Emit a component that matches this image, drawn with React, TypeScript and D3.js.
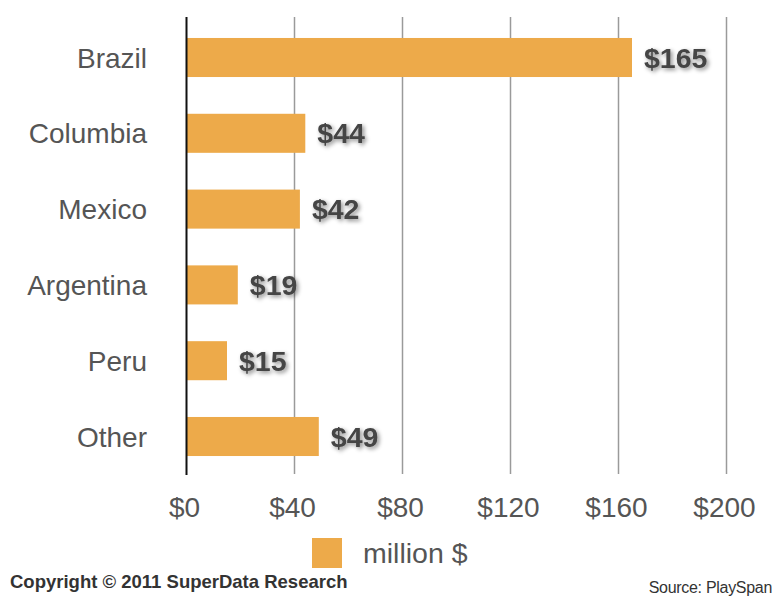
import React from "react";
import * as d3 from "d3";

const categories = ["Brazil", "Columbia", "Mexico", "Argentina", "Peru", "Other"];
const values = [165, 44, 42, 19, 15, 49];
const tickValues = [0, 40, 80, 120, 160, 200];
const legendLabel = "million $";
const copyright = "Copyright © 2011 SuperData Research";
const source = "Source: PlaySpan";

const W = 774;
const H = 599;
const FONT = "'Liberation Sans', Arial, Helvetica, sans-serif";
const BAR = "#EDAA4A";

export default function App() {
  const x = d3.scaleLinear().domain([0, 200]).range([186.5, 726.5]);
  const y = d3
    .scaleBand<string>()
    .domain(categories)
    .range([19.6, 474.4])
    .paddingInner(0.485)
    .paddingOuter(0.2425);

  return (
    <svg
      width={W}
      height={H}
      style={{ position: "absolute", left: 0, top: 0, background: "#fff" }}
    >
      <defs>
        <filter id="shadow" x="-20%" y="-30%" width="140%" height="160%">
          <feDropShadow dx="2" dy="2" stdDeviation="2" floodColor="#000" floodOpacity="0.45" />
        </filter>
      </defs>
      <rect width={W} height={H} fill="#fff" />
      {tickValues.slice(1).map((t) => (
        <line
          key={t}
          x1={x(t)}
          x2={x(t)}
          y1={17}
          y2={474}
          stroke="#9a9a9a"
          strokeWidth={1.5}
        />
      ))}
      {categories.map((c, i) => (
        <rect
          key={c}
          x={x(0)}
          y={y(c)}
          width={x(values[i]) - x(0)}
          height={y.bandwidth()}
          fill={BAR}
        />
      ))}
      <line x1={x(0)} x2={x(0)} y1={17} y2={475} stroke="#111" strokeWidth={2} />
      {categories.map((c) => (
        <text
          key={c}
          x={147}
          y={(y(c) as number) + y.bandwidth() / 2 + 10}
          textAnchor="end"
          fontFamily={FONT}
          fontSize={28}
          fill="#555"
        >
          {c}
        </text>
      ))}
      {categories.map((c, i) => (
        <text
          key={c}
          x={x(values[i]) + 12}
          y={(y(c) as number) + y.bandwidth() / 2 + 10}
          fontFamily={FONT}
          fontSize={28.5}
          fontWeight="bold"
          fill="#444"
          filter="url(#shadow)"
        >
          {"$" + values[i]}
        </text>
      ))}
      {tickValues.map((t) => (
        <text
          key={t}
          x={x(t) - 2}
          y={517}
          textAnchor="middle"
          fontFamily={FONT}
          fontSize={28}
          fill="#555"
        >
          {"$" + t}
        </text>
      ))}
      <rect x={312} y={538} width={30} height={30} fill={BAR} />
      <text x={363} y={563} fontFamily={FONT} fontSize={28.5} fill="#555">
        {legendLabel}
      </text>
      <text x={10} y={588} fontFamily={FONT} fontSize={18.5} fontWeight="bold" fill="#333">
        {copyright}
      </text>
      <text x={772} y={593} textAnchor="end" fontFamily={FONT} fontSize={16} fill="#333" letterSpacing={-0.3}>
        {source}
      </text>
    </svg>
  );
}
